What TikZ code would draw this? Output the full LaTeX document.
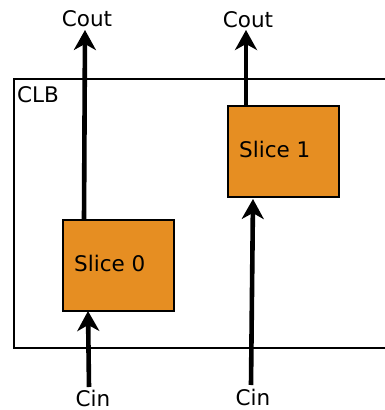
\documentclass[tikz,border=0pt]{standalone}
\usepackage{fontspec}
\setmainfont{DejaVu Sans}
\usetikzlibrary{arrows.meta}
\definecolor{sliceorange}{HTML}{E68E22}
\begin{document}
\begin{tikzpicture}[x=1pt,y=-1pt,
  font=\fontsize{21.5}{24}\selectfont,
  slicebox/.style={draw=black,line width=2.4pt,fill=sliceorange,minimum width=111pt,minimum height=91pt,inner sep=0pt},
  carry/.style={line width=4.6pt,-{Stealth[length=20pt,width=22pt,inset=6pt]}},
  lbl/.style={anchor=base,inner sep=0pt}]
\useasboundingbox (0,0) rectangle (385,410);
% CLB frame, open at the right edge
\draw[line width=2.4pt] (400,79) -- (14,79) -- (14,348) -- (400,348);
\node[lbl,anchor=base west] (clb) at (17,102) {CLB};
% slices
\node[slicebox] (s0) at (118.5,265.5) {};
\node[slicebox] (s1) at (283.5,151.5) {};
\node[lbl,anchor=base west] (t0) at (74,271) {Slice 0};
\node[lbl,anchor=base west] (t1) at (239,157) {Slice 1};
% carry labels
\node[lbl] (cout0) at (87,26) {Cout};
\node[lbl] (cout1) at (248,27) {Cout};
\node[lbl] (cin0) at (93,406) {Cin};
\node[lbl] (cin1) at (253,405) {Cin};
% carry chain end points
\coordinate (c0top) at (85,30);
\coordinate (c0bot) at (84,220);
\coordinate (c1top) at (246,30);
\coordinate (c1bot) at (246,106);
\coordinate (i0start) at (89,387);
\coordinate (i0tip) at (88,311);
\coordinate (i1start) at (251,385);
\coordinate (i1tip) at (253,199);
\draw[carry] (c0bot) -- (c0top);
\draw[carry] (c1bot) -- (c1top);
\draw[carry] (i0start) -- (i0tip);
\draw[carry] (i1start) -- (i1tip);
\end{tikzpicture}
\end{document}
